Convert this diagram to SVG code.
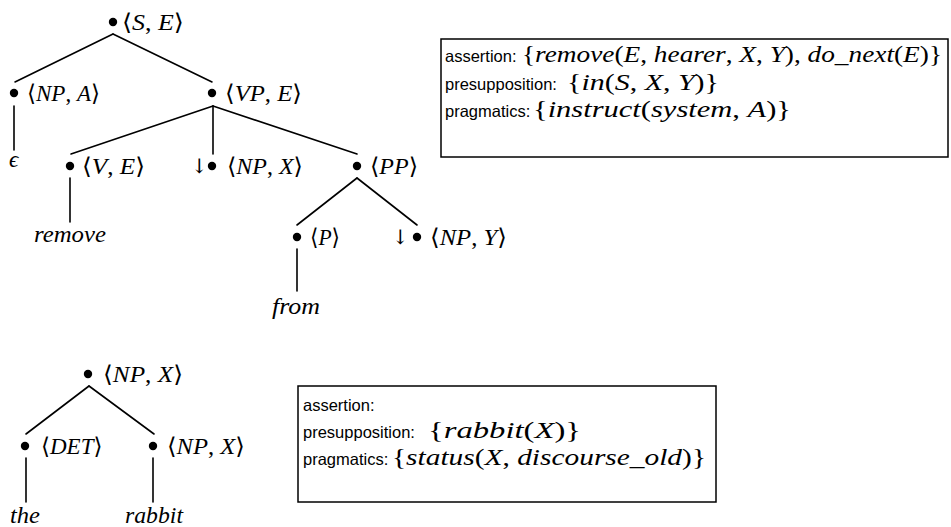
<svg xmlns="http://www.w3.org/2000/svg" width="951" height="527" viewBox="0 0 951 527">
<style>
.e{stroke:#000;stroke-width:1.6;fill:none;stroke-linecap:round}
.d{fill:#000}
.m{font-family:"Liberation Serif","DejaVu Serif",serif;font-style:italic;font-size:23px;fill:#000}
.u{font-style:normal}
.a{font-family:"DejaVu Serif",serif;font-style:normal;font-size:20px;fill:#000}
.s{font-family:"Liberation Sans",Arial,sans-serif;font-size:16.5px;fill:#000}
.b{fill:#fff;stroke:#000;stroke-width:1.5}
</style>
<rect width="951" height="527" fill="#fff"/>
<g id="connectors">
<line class="e" x1="113" y1="34" x2="15" y2="82"/>
<line class="e" x1="113" y1="34" x2="212" y2="82"/>
<line class="e" x1="14" y1="106" x2="14" y2="150"/>
<line class="e" x1="213" y1="106" x2="71" y2="154"/>
<line class="e" x1="213" y1="106" x2="213" y2="154"/>
<line class="e" x1="213" y1="106" x2="357" y2="154"/>
<line class="e" x1="70" y1="178" x2="70" y2="222"/>
<line class="e" x1="357" y1="178" x2="297" y2="225"/>
<line class="e" x1="357" y1="178" x2="417" y2="225"/>
<line class="e" x1="297" y1="249" x2="297" y2="291"/>
<line class="e" x1="89" y1="386" x2="26" y2="434"/>
<line class="e" x1="89" y1="386" x2="154" y2="434"/>
<line class="e" x1="26" y1="458" x2="26" y2="502"/>
<line class="e" x1="153" y1="458" x2="153" y2="502"/>
</g>
<g id="n-s"><circle class="d" cx="113" cy="22" r="4.2"/><text class="m" x="122" y="30" textLength="62" lengthAdjust="spacingAndGlyphs"><tspan class="u">⟨</tspan>S<tspan class="u">, </tspan>E<tspan class="u">⟩</tspan></text></g>
<g id="n-npa"><circle class="d" cx="14" cy="93" r="4.2"/><text class="m" x="27" y="101" textLength="73" lengthAdjust="spacingAndGlyphs"><tspan class="u">⟨</tspan>NP<tspan class="u">, </tspan>A<tspan class="u">⟩</tspan></text></g>
<g id="n-eps"><text class="m" x="9" y="167">ϵ</text></g>
<g id="n-vpe"><circle class="d" cx="212" cy="93" r="4.2"/><text class="m" x="225" y="101" textLength="77" lengthAdjust="spacingAndGlyphs"><tspan class="u">⟨</tspan>VP<tspan class="u">, </tspan>E<tspan class="u">⟩</tspan></text></g>
<g id="n-ve"><circle class="d" cx="70" cy="166" r="4.2"/><text class="m" x="82" y="174" textLength="63" lengthAdjust="spacingAndGlyphs"><tspan class="u">⟨</tspan>V<tspan class="u">, </tspan>E<tspan class="u">⟩</tspan></text></g>
<g id="n-remove"><text class="m" x="34" y="242" textLength="72" lengthAdjust="spacingAndGlyphs">remove</text></g>
<g id="n-npx"><text class="a" x="191" y="173">↓</text><circle class="d" cx="212" cy="166" r="4.2"/><text class="m" x="227" y="174" textLength="76" lengthAdjust="spacingAndGlyphs"><tspan class="u">⟨</tspan>NP<tspan class="u">, </tspan>X<tspan class="u">⟩</tspan></text></g>
<g id="n-pp"><circle class="d" cx="357" cy="166" r="4.2"/><text class="m" x="370" y="174" textLength="48" lengthAdjust="spacingAndGlyphs"><tspan class="u">⟨</tspan>PP<tspan class="u">⟩</tspan></text></g>
<g id="n-p"><circle class="d" cx="297" cy="237" r="4.2"/><text class="m" x="310" y="245" textLength="30" lengthAdjust="spacingAndGlyphs"><tspan class="u">⟨</tspan>P<tspan class="u">⟩</tspan></text></g>
<g id="n-from"><text class="m" x="272" y="314" textLength="48" lengthAdjust="spacingAndGlyphs">from</text></g>
<g id="n-npy"><text class="a" x="392" y="244">↓</text><circle class="d" cx="417" cy="237" r="4.2"/><text class="m" x="430" y="245" textLength="77" lengthAdjust="spacingAndGlyphs"><tspan class="u">⟨</tspan>NP<tspan class="u">, </tspan>Y<tspan class="u">⟩</tspan></text></g>
<g id="box1">
<rect class="b" x="441" y="39" width="507" height="118"/>
<text class="s" x="445" y="62">assertion:</text>
<text class="m" x="522" y="62" textLength="420" lengthAdjust="spacingAndGlyphs"><tspan class="u">{</tspan>remove<tspan class="u">(</tspan>E<tspan class="u">, </tspan>hearer<tspan class="u">, </tspan>X<tspan class="u">, </tspan>Y<tspan class="u">), </tspan>do_next<tspan class="u">(</tspan>E<tspan class="u">)}</tspan></text>
<text class="s" x="445" y="90">presupposition:</text>
<text class="m" x="567" y="90" textLength="152" lengthAdjust="spacingAndGlyphs"><tspan class="u">{</tspan>in<tspan class="u">(</tspan>S<tspan class="u">, </tspan>X<tspan class="u">, </tspan>Y<tspan class="u">)}</tspan></text>
<text class="s" x="445" y="117">pragmatics:</text>
<text class="m" x="533" y="117" textLength="258" lengthAdjust="spacingAndGlyphs"><tspan class="u">{</tspan>instruct<tspan class="u">(</tspan>system<tspan class="u">, </tspan>A<tspan class="u">)}</tspan></text>
</g>
<g id="n-np2"><circle class="d" cx="88" cy="374" r="4.2"/><text class="m" x="103" y="382" textLength="80" lengthAdjust="spacingAndGlyphs"><tspan class="u">⟨</tspan>NP<tspan class="u">, </tspan>X<tspan class="u">⟩</tspan></text></g>
<g id="n-det"><circle class="d" cx="25" cy="446" r="4.2"/><text class="m" x="41" y="454"><tspan class="u">⟨</tspan>DET<tspan class="u">⟩</tspan></text></g>
<g id="n-np3"><circle class="d" cx="153" cy="446" r="4.2"/><text class="m" x="167" y="454" textLength="78" lengthAdjust="spacingAndGlyphs"><tspan class="u">⟨</tspan>NP<tspan class="u">, </tspan>X<tspan class="u">⟩</tspan></text></g>
<g id="n-the"><text class="m" x="10" y="523" textLength="30" lengthAdjust="spacingAndGlyphs">the</text></g>
<g id="n-rabbit"><text class="m" x="125" y="523" textLength="58" lengthAdjust="spacingAndGlyphs">rabbit</text></g>
<g id="box2">
<rect class="b" x="298" y="386" width="418" height="116"/>
<text class="s" x="303" y="411">assertion:</text>
<text class="s" x="303" y="438">presupposition:</text>
<text class="m" x="428" y="438" textLength="153" lengthAdjust="spacingAndGlyphs"><tspan class="u">{</tspan>rabbit<tspan class="u">(</tspan>X<tspan class="u">)}</tspan></text>
<text class="s" x="303" y="465">pragmatics:</text>
<text class="m" x="392" y="465" textLength="314" lengthAdjust="spacingAndGlyphs"><tspan class="u">{</tspan>status<tspan class="u">(</tspan>X<tspan class="u">, </tspan>discourse_old<tspan class="u">)}</tspan></text>
</g>
</svg>
